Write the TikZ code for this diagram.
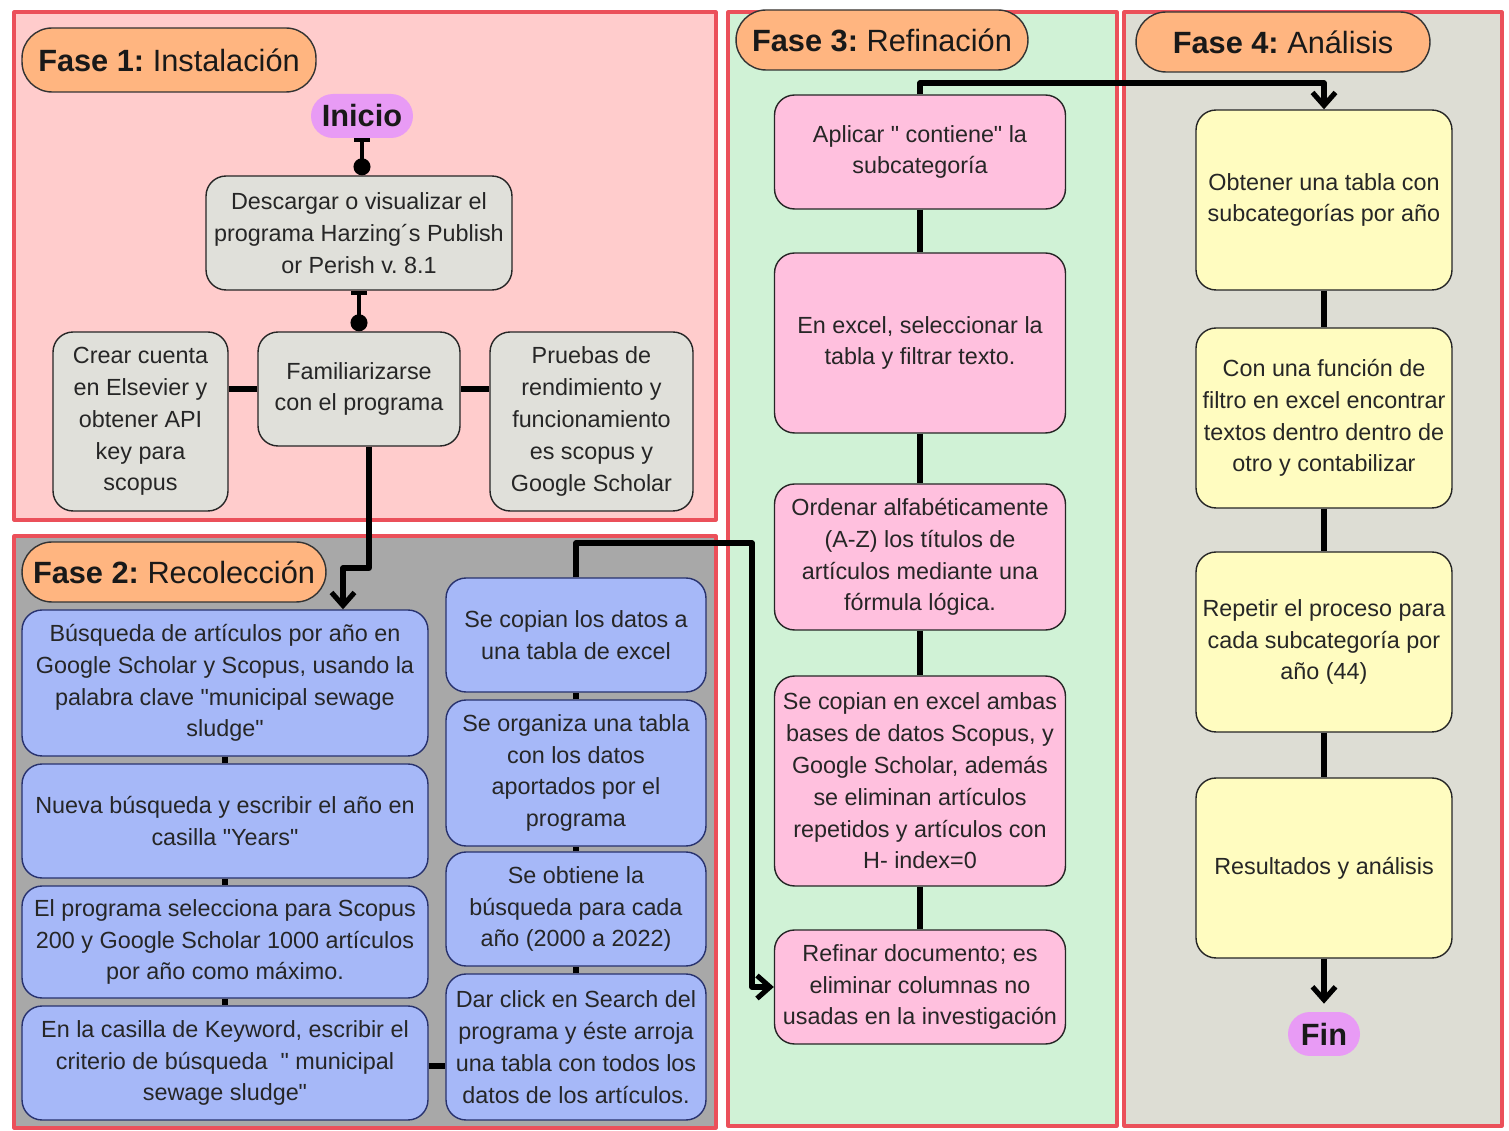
\documentclass[tikz,border=0pt]{standalone}
\usepackage{fontspec}
\setmainfont{Liberation Sans}
\usetikzlibrary{arrows.meta, positioning}
\frenchspacing

\definecolor{panelred}{RGB}{235,80,90}
\definecolor{phaseonefill}{RGB}{255,204,204}
\definecolor{phasetwofill}{RGB}{168,168,168}
\definecolor{phasethreefill}{RGB}{208,242,214}
\definecolor{phasefourfill}{RGB}{221,221,212}
\definecolor{labelorange}{RGB}{255,181,128}
\definecolor{termviolet}{RGB}{232,155,245}
\definecolor{graybox}{RGB}{224,224,218}
\definecolor{bluebox}{RGB}{166,184,248}
\definecolor{blueline}{RGB}{40,50,110}
\definecolor{pinkbox}{RGB}{255,192,222}
\definecolor{yellowbox}{RGB}{255,252,192}

\newcommand{\dq}{\textquotedbl}

\begin{document}
\begin{tikzpicture}[x=0.02cm, y=-0.02cm, line join=round]
\tikzstyle{panel}=[draw=panelred, line width=1.8pt]
\tikzstyle{phase label}=[draw=black!80, fill=labelorange, rounded corners=0.6cm, line width=0.8pt, inner sep=2pt, text=black!90, font=\fontsize{17.5}{20}\selectfont]
\tikzstyle{terminal}=[fill=termviolet, rounded corners=0.44cm, minimum height=0.88cm, inner sep=2pt, text=black!90, font=\fontsize{17.5}{20}\selectfont\bfseries]
\tikzstyle{box}=[draw=black!85, rounded corners=0.4cm, align=center, inner sep=2pt, line width=0.8pt, text=black!85, font=\fontsize{13.3}{18.1}\selectfont]
\tikzstyle{gray box}=[box, fill=graybox]
\tikzstyle{blue box}=[box, fill=bluebox, draw=blueline, minimum width=8.12cm]
\tikzstyle{side box}=[box, fill=bluebox, draw=blueline, minimum width=5.2cm]
\tikzstyle{pink box}=[box, fill=pinkbox, minimum width=5.82cm]
\tikzstyle{yellow box}=[box, fill=yellowbox, minimum width=5.12cm, minimum height=3.6cm]
\tikzstyle{link}=[draw=black, line width=2.9pt]
\tikzstyle{flow}=[link, -{Straight Barb[length=2.6mm, width=4.6mm]}]
\tikzstyle{tdot}=[draw=black, line width=2.2pt, {Bar[width=3.2mm]}-{Circle[length=3.4mm]}]

\useasboundingbox (0,0) rectangle (1509,1131);

% Draw the four phase panels
\draw[panel, fill=phaseonefill] (14,12) rectangle (716,520);
\draw[panel, fill=phasetwofill] (14,536) rectangle (716,1128);
\draw[panel, fill=phasethreefill] (728,12) rectangle (1117,1126);
\draw[panel, fill=phasefourfill] (1124,12) rectangle (1502,1126);

% Phase titles
\node[phase label, minimum width=5.88cm, minimum height=1.28cm] (F1) at (169,60) {\textbf{Fase 1:} Instalación};
\node[phase label, minimum width=6.08cm, minimum height=1.2cm] (F2) at (174,572) {\textbf{Fase 2:} Recolección};
\node[phase label, minimum width=5.84cm, minimum height=1.2cm] (F3) at (882,40) {\textbf{Fase 3:} Refinación};
\node[phase label, minimum width=5.88cm, minimum height=1.2cm] (F4) at (1283,42) {\textbf{Fase 4:} Análisis};

% Phase 1 nodes
\node[terminal, minimum width=2.04cm] (ini) at (362,116) {Inicio};
\node[gray box, minimum width=6.12cm, minimum height=2.28cm] (desc) at (359,233) {Descargar o visualizar el\\programa Harzing´s Publish\\or Perish v. 8.1};
\node[gray box, minimum width=3.5cm, minimum height=3.58cm] (crear) at (140.5,421.5) {Crear cuenta\\en Elsevier y\\obtener API\\key para\\scopus};
\node[gray box, minimum width=4.04cm, minimum height=2.28cm] (famil) at (359,389) {Familiarizarse\\con el programa};
\node[gray box, minimum width=4.06cm, minimum height=3.58cm] (prueb) at (591.5,421.5) {Pruebas de\\rendimiento y\\funcionamiento\\es scopus y\\Google Scholar};

% Phase 2 nodes, left column
\node[blue box, minimum height=2.92cm] (B-1) at (225,683) {Búsqueda de artículos por año en\\Google Scholar y Scopus, usando la\\palabra clave \dq municipal sewage\\sludge\dq};
\node[blue box, minimum height=2.28cm] (B-2) at (225,821) {Nueva búsqueda y escribir el año en\\casilla \dq Years\dq};
\node[blue box, minimum height=2.24cm] (B-3) at (225,942) {El programa selecciona para Scopus\\200 y Google Scholar 1000 artículos\\por año como máximo.};
\node[blue box, minimum height=2.28cm] (B-4) at (225,1063) {En la casilla de Keyword, escribir el\\criterio de búsqueda\ \ \dq\ municipal\\sewage sludge\dq};

% Phase 2 nodes, right column
\node[side box, minimum height=2.28cm] (R-1) at (576,635) {Se copian los datos a\\una tabla de excel};
\node[side box, minimum height=2.92cm] (R-2) at (576,773) {Se organiza una tabla\\con los datos\\aportados por el\\programa};
\node[side box, minimum height=2.28cm] (R-3) at (576,909) {Se obtiene la\\búsqueda para cada\\año (2000 a 2022)};
\node[side box, minimum height=2.92cm] (R-4) at (576,1047) {Dar click en Search del\\programa y éste arroja\\una tabla con todos los\\datos de los artículos.};

% Phase 3 nodes
\node[pink box, minimum height=2.28cm] (P-1) at (920,152) {Aplicar \dq\ contiene\dq\ la\\subcategoría};
\node[pink box, minimum height=3.6cm] (P-2) at (920,343) {En excel, seleccionar la\\tabla y filtrar texto.};
\node[pink box, minimum height=2.92cm] (P-3) at (920,557) {Ordenar alfabéticamente\\(A-Z) los títulos de\\artículos mediante una\\fórmula lógica.};
\node[pink box, minimum height=4.2cm] (P-4) at (920,781) {Se copian en excel ambas\\bases de datos Scopus, y\\Google Scholar, además\\se eliminan artículos\\repetidos y artículos con\\H- index=0};
\node[pink box, minimum height=2.28cm] (P-5) at (920,987) {Refinar documento; es\\eliminar columnas no\\usadas en la investigación};

% Phase 4 nodes
\node[yellow box] (Y-1) at (1324,200) {Obtener una tabla con\\subcategorías por año};
\node[yellow box] (Y-2) at (1324,418) {Con una función de\\filtro en excel encontrar\\textos dentro dentro de\\otro y contabilizar};
\node[yellow box] (Y-3) at (1324,642) {Repetir el proceso para\\cada subcategoría por\\año (44)};
\node[yellow box] (Y-4) at (1324,868) {Resultados y análisis};
\node[terminal, minimum width=1.44cm] (fin) at (1324,1034) {Fin};

% Bend points of the long connectors
\coordinate (k1) at (343,568);
\coordinate (k2) at (752,543);
\coordinate (k3) at (1324,83);

% Connect the phase 1 nodes
\path[tdot] (ini.south) -- (ini.south |- desc.north);
\path[tdot] (desc.south) -- (famil.north);
\path[link] (famil.west) -- (famil.west -| crear.east);
\path[link] (famil.east) -- (famil.east -| prueb.west);

% Phase 1 to phase 2
\path[flow] ([xshift=0.2cm]famil.south) |- (k1) -- (k1 |- B-1.north);

% Connect the phase 2 columns
\foreach \source/\dest in {1/2,2/3,3/4}
  \path[link] (B-\source.south) -- (B-\dest.north);
\path[link] ([yshift=-0.06cm]B-4.east) -- ([yshift=-0.06cm]B-4.east -| R-4.west);
\foreach \source/\dest in {4/3,3/2,2/1}
  \path[link] (R-\source.north) -- (R-\dest.south);

% Phase 2 to phase 3
\path[flow] (R-1.north) |- (k2) |- (P-5.west);

% Connect the phase 3 nodes
\foreach \source/\dest in {1/2,2/3,3/4,4/5}
  \path[link] (P-\source.south) -- (P-\dest.north);

% Phase 3 to phase 4
\path[flow] (P-1.north) |- (k3) -- (Y-1.north);

% Connect the phase 4 nodes
\foreach \source/\dest in {1/2,2/3,3/4}
  \path[link] (Y-\source.south) -- (Y-\dest.north);
\path[flow] (Y-4.south) -- ([yshift=0.16cm]fin.north);

\end{tikzpicture}
\end{document}
